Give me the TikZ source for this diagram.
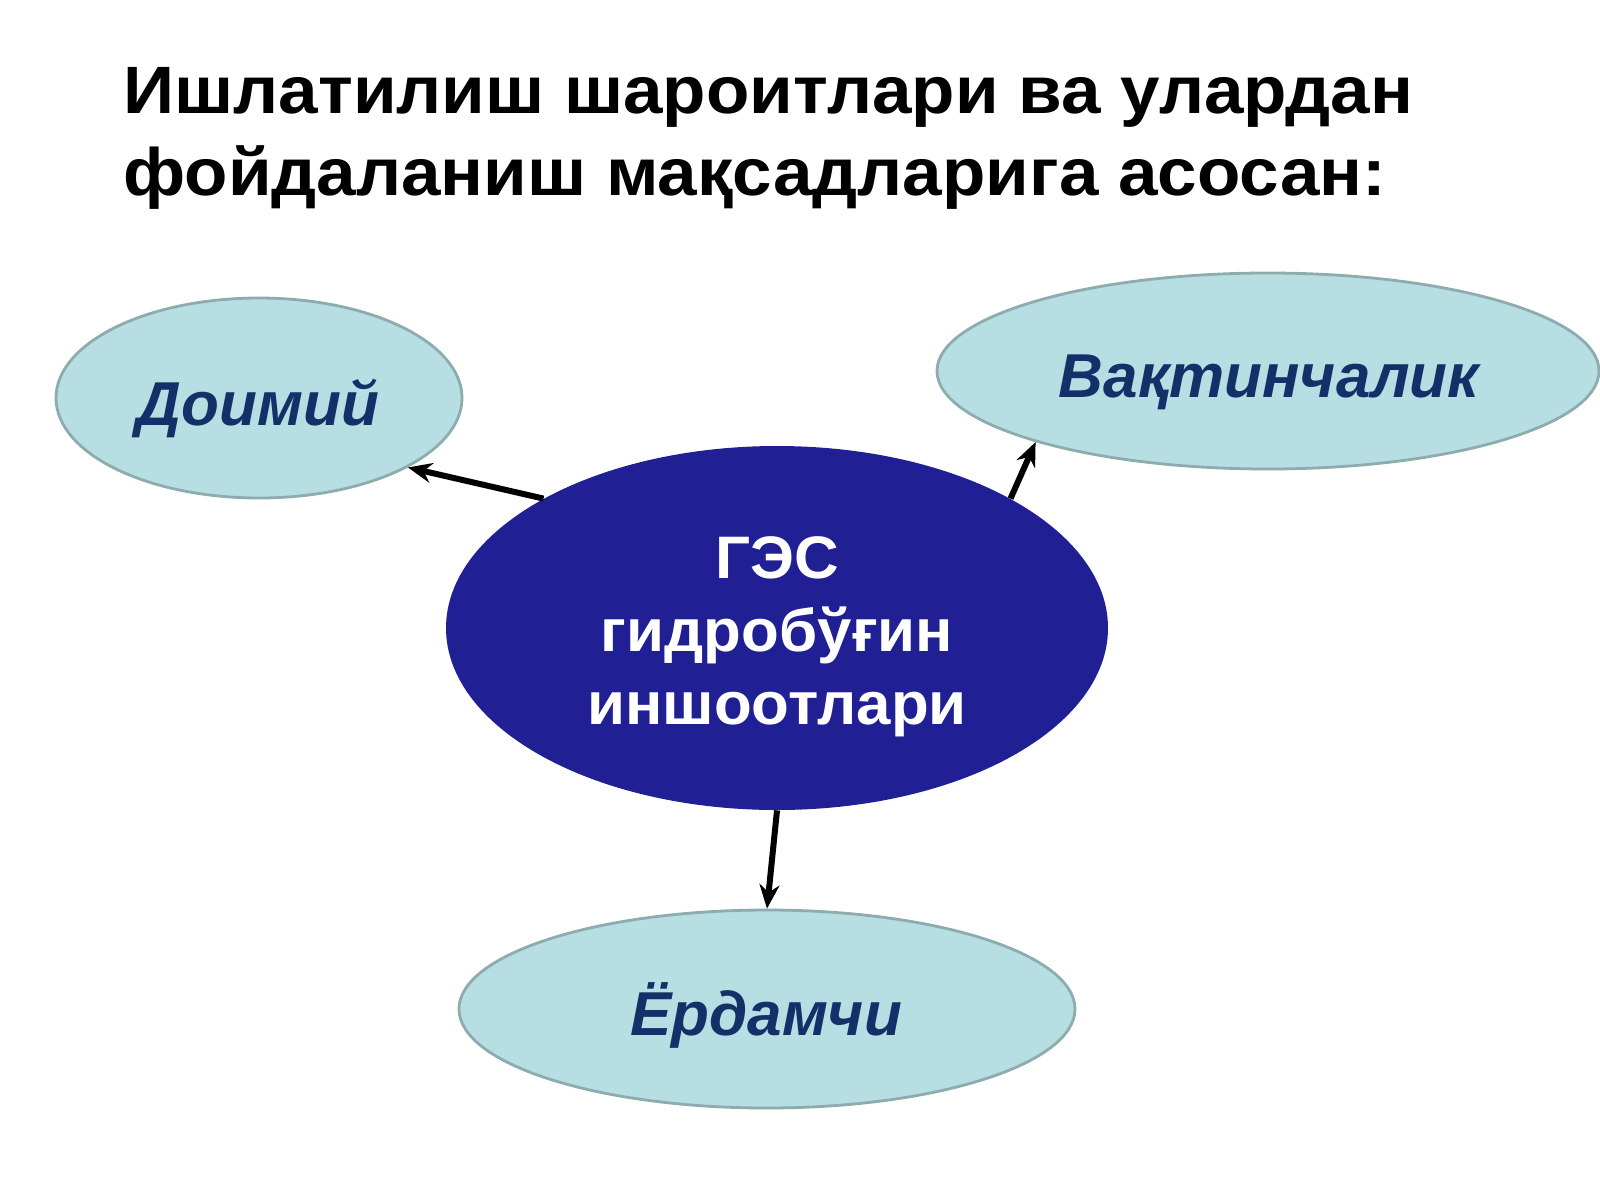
\documentclass[tikz,border=0pt]{standalone}
\usepackage{fontspec}
\setmainfont{Liberation Sans}
\newfontfamily\titlefont[FakeStretch=1.06]{Liberation Sans}
\newfontfamily\hubfont[FakeStretch=1.03]{Liberation Sans}
\usetikzlibrary{shapes.geometric,arrows.meta}
\definecolor{navy}{RGB}{32,32,148}
\definecolor{paleblue}{RGB}{183,222,226}
\definecolor{paleedge}{RGB}{140,172,174}
\definecolor{labelblue}{RGB}{20,48,105}
\tikzset{
  side/.style={ellipse, fill=paleblue, draw=paleedge, line width=1.4pt, inner sep=0pt},
  hub/.style={ellipse, fill=navy, draw=none, inner sep=0pt},
  sidetext/.style={font=\fontsize{31}{36}\selectfont\bfseries\itshape, text=labelblue, inner sep=0pt, anchor=base},
  hubtext/.style={font=\hubfont\fontsize{30}{36.5}\selectfont\bfseries, text=white, align=center, inner sep=0pt},
  titletext/.style={font=\titlefont\fontsize{33.5}{40}\selectfont\bfseries, inner sep=0pt, anchor=base west},
  link/.style={line width=3pt, -{Stealth[length=12pt,width=10pt]}}
}
\begin{document}
\begin{tikzpicture}[x=0.5pt,y=-0.5pt]
\useasboundingbox (0,0) rectangle (1600,1200);
\fill[white] (0,0) rectangle (1600,1200);
\node[titletext] (t1) at (123,113) {Ишлатилиш шароитлари ва улардан};
\node[titletext] (t2) at (123,195) {фойдаланиш мақсадларига асосан:};

\node[hub, minimum width=331pt, minimum height=182pt] (c) at (777,628) {};
\node[hubtext] (ct) at (777,637) {ГЭС\\гидробўғин\\иншоотлари};

\node[side, minimum width=203pt, minimum height=100pt] (d) at (259,398) {};
\node[sidetext] (dt) at (258,425) {Доимий};

\node[side, minimum width=331pt, minimum height=98pt] (v) at (1268,371) {};
\node[sidetext] (vt) at (1269,397) {Вақтинчалик};

\node[side, minimum width=308pt, minimum height=99pt] (e) at (767,1009) {};
\node[sidetext] (et) at (766,1035) {Ёрдамчи};

\draw[link] (c.151) -- (d.335);
\draw[link] (c.29) -- (v.197);
\draw[link] (c.south) -- (e.north);
\end{tikzpicture}
\end{document}
